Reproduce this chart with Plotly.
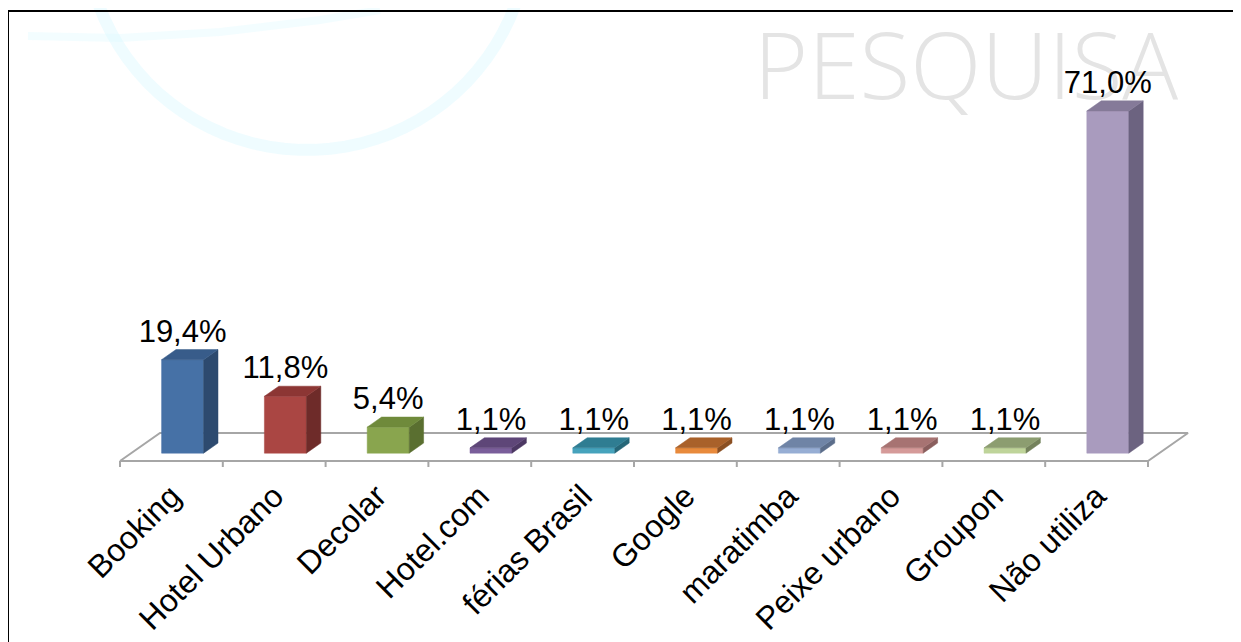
import math
import plotly.graph_objects as go

# ---------------- data ----------------
categories = ["Booking", "Hotel Urbano", "Decolar", "Hotel.com", "férias Brasil",
              "Google", "maratimba", "Peixe urbano", "Groupon", "Não utiliza"]
values = [19.4, 11.8, 5.4, 1.1, 1.1, 1.1, 1.1, 1.1, 1.1, 71.0]
value_labels = ["19,4%", "11,8%", "5,4%", "1,1%", "1,1%", "1,1%", "1,1%", "1,1%", "1,1%", "71,0%"]

front_colors = ["#4671A6", "#AA4643", "#89A54E", "#7A5E9A", "#46A3BC",
                "#E88A3C", "#97AED4", "#D59A99", "#BFD49A", "#A99BBE"]
top_colors = ["#385C8A", "#8C3634", "#6F8A3B", "#5E4678", "#2F7D92",
              "#A9612A", "#6F84A6", "#A77372", "#8C9D70", "#857A99"]
side_colors = ["#2D4A6F", "#6E2B29", "#5A6F30", "#4C3863", "#266778",
               "#8A4F22", "#5B6D8A", "#8A5E5D", "#74825C", "#6C6380"]

# ---------------- geometry (page pixels, minus the 8px page margin) ----------------
OFF = 8                      # body margin of the html page
W, H = 1233, 634             # figure size
PLOT_BOTTOM = 470 - OFF      # px of plot-area bottom
FLOOR_FRONT = 461 - OFF      # px of floor front line
CAT_W = 102.8                # px per category
X0 = 120 - OFF               # px of left floor front corner
PX_PER_UNIT = 4.82           # px per percentage point
FLOOR_DX, FLOOR_DY = 40, 28  # floor depth offset in px
D_FRONT, D_BACK = 0.28, 0.64 # bar depth placement (fraction of floor depth)
HALF_BAR = 21 / CAT_W        # half bar width in category units

x_range = [-0.5 - X0 / CAT_W, -0.5 + (W - X0) / CAT_W]
y_range = [-(PLOT_BOTTOM - FLOOR_FRONT) / PX_PER_UNIT, FLOOR_FRONT / PX_PER_UNIT]
ddx = FLOOR_DX / CAT_W
ddy = FLOOR_DY / PX_PER_UNIT

def proj(x, d, h):
    """category coordinate x, depth fraction d, height h -> data coords"""
    return x + d * ddx, h + d * ddy

def pxp(x, y):
    """reference page pixel -> paper coords"""
    return (x - OFF) / W, (PLOT_BOTTOM - (y - OFF)) / PLOT_BOTTOM

def pxd(x, y):
    """reference page pixel -> data coords"""
    return (x - OFF - X0) / CAT_W - 0.5, (FLOOR_FRONT - (y - OFF)) / PX_PER_UNIT

fig = go.Figure()

# watermark text (drawn first so it stays behind)
wx, wy = pxd(966, 76)
fig.add_trace(go.Scatter(x=[wx], y=[wy], mode="text", text=["PESQUISA"],
                         textposition="middle center",
                         textfont=dict(family="Open Sans", size=93, color="#E4E4E4", weight=300),
                         hoverinfo="skip", showlegend=False, cliponaxis=False))

# floor
n = len(categories)
fl = [proj(-0.5, 0, 0), proj(n - 0.5, 0, 0), proj(n - 0.5, 1, 0), proj(-0.5, 1, 0), proj(-0.5, 0, 0)]
fig.add_trace(go.Scatter(x=[p[0] for p in fl], y=[p[1] for p in fl], mode="lines",
                         line=dict(color="#A6A6A6", width=2), hoverinfo="skip", showlegend=False))
# ticks on floor front
tx, ty = [], []
for b in range(n + 1):
    tx += [b - 0.5, b - 0.5, None]
    ty += [0, -6 / PX_PER_UNIT, None]
fig.add_trace(go.Scatter(x=tx, y=ty, mode="lines", line=dict(color="#A6A6A6", width=2),
                         hoverinfo="skip", showlegend=False))

def poly(points, color):
    xs = [p[0] for p in points] + [points[0][0]]
    ys = [p[1] for p in points] + [points[0][1]]
    fig.add_trace(go.Scatter(x=xs, y=ys, mode="lines", fill="toself", fillcolor=color,
                             line=dict(color=color, width=0.5), hoverinfo="skip", showlegend=False))

lab_x, lab_y = [], []
for i, v in enumerate(values):
    xl, xr = i - HALF_BAR, i + HALF_BAR
    poly([proj(xl, D_FRONT, 0), proj(xr, D_FRONT, 0), proj(xr, D_FRONT, v), proj(xl, D_FRONT, v)], front_colors[i])
    poly([proj(xr, D_FRONT, 0), proj(xr, D_BACK, 0), proj(xr, D_BACK, v), proj(xr, D_FRONT, v)], side_colors[i])
    poly([proj(xl, D_FRONT, v), proj(xr, D_FRONT, v), proj(xr, D_BACK, v), proj(xl, D_BACK, v)], top_colors[i])
    cx, _ = proj(i, D_FRONT, v)
    _, ty_ = proj(i, D_BACK, v)
    lab_x.append(cx)
    lab_y.append(ty_)

fig.add_trace(go.Scatter(x=lab_x, y=lab_y, mode="text", text=value_labels,
                         textposition="top center",
                         textfont=dict(family="Liberation Sans, Arial", size=31, color="black"),
                         hoverinfo="skip", showlegend=False, cliponaxis=False))

# ---------------- background decorations (paper coords) ----------------
shapes = []
cxp, cyp, r = 307, -72, 222
pts = []
for k in range(0, 181, 4):
    a = math.radians(k)
    pts.append(pxp(cxp + r * math.cos(a), cyp + r * math.sin(a)))
path = "M " + " L ".join(f"{a:.5f},{b:.5f}" for a, b in pts)
shapes.append(dict(type="path", xref="paper", yref="paper", path=path,
                   line=dict(color="rgba(215,247,255,0.4)", width=12), layer="below"))
sw = [pxp(28, 36), pxp(120, 38), pxp(220, 32), pxp(320, 20), pxp(380, 10)]
path2 = "M " + " L ".join(f"{a:.5f},{b:.5f}" for a, b in sw)
shapes.append(dict(type="path", xref="paper", yref="paper", path=path2,
                   line=dict(color="rgba(220,248,255,0.35)", width=8), layer="below"))
# frame
a1, b1 = pxp(8, 11)
a2, b2 = pxp(8, 642)
a3, b3 = pxp(1241, 11)
shapes.append(dict(type="line", xref="paper", yref="paper", x0=a1, y0=b1, x1=a2, y1=b2,
                   line=dict(color="black", width=2)))
shapes.append(dict(type="line", xref="paper", yref="paper", x0=a1, y0=b1, x1=a3, y1=b3,
                   line=dict(color="black", width=2)))
r1, s1 = pxp(1239, 580)
r2, s2 = pxp(1239, 642)
shapes.append(dict(type="line", xref="paper", yref="paper", x0=r1, y0=s1, x1=r2, y1=s2,
                   line=dict(color="#C8C8C8", width=1)))

fig.update_layout(
    width=W, height=H, template="none",
    margin=dict(l=0, r=0, t=0, b=H - PLOT_BOTTOM, pad=0),
    paper_bgcolor="white", plot_bgcolor="rgba(0,0,0,0)",
    shapes=shapes, showlegend=False,
    xaxis=dict(range=x_range, showgrid=False, zeroline=False, showline=False,
               tickmode="array", tickvals=list(range(n)), ticktext=categories,
               tickangle=-45, ticks="", automargin=False,
               tickfont=dict(family="Liberation Sans, Arial", size=32, color="black")),
    yaxis=dict(range=y_range, visible=False, automargin=False),
)

fig.write_html("out.html")
